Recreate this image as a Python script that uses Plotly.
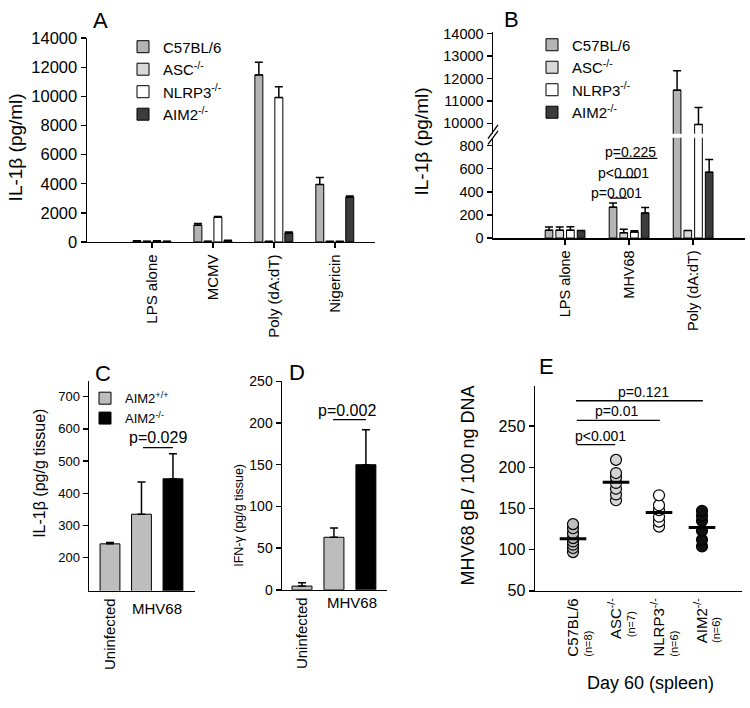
import plotly.graph_objects as go
import numpy as np

W, H = 750, 708
FONT = "Liberation Sans, Arial, sans-serif"

# ---------------- data ----------------
genotypes = ["C57BL/6", "ASC<sup>-/-</sup>", "NLRP3<sup>-/-</sup>", "AIM2<sup>-/-</sup>"]
geno_colors = ["#b4b4b4", "#d9d9d9", "#ffffff", "#3c3c3c"]

# Panel A
a_categories = ["LPS alone", "MCMV", "Poly (dA:dT)", "Nigericin"]
a_c57 = [60, 1150, 11480, 3950]
a_c57_err = [25, 110, 870, 470]
a_asc = [40, 40, 30, 30]
a_asc_err = [15, 10, 10, 10]
a_nlrp3 = [60, 1700, 9920, 30]
a_nlrp3_err = [20, 40, 740, 10]
a_aim2 = [40, 80, 620, 3080]
a_aim2_err = [15, 30, 70, 70]

# Panel B
b_categories = ["LPS alone", "MHV68", "Poly (dA:dT)"]
b_c57 = [68, 267, 11480]
b_c57_err = [28, 36, 870]
b_asc = [68, 45, 65]
b_asc_err = [28, 30, 0]
b_nlrp3 = [68, 52, 9950]
b_nlrp3_err = [30, 12, 760]
b_aim2 = [65, 216, 570]
b_aim2_err = [0, 48, 110]

# Panel C (IL-1b in tissue)
cd_categories = ["Uninfected", "MHV68"]
c_labels = ["AIM2<sup>+/+</sup>", "AIM2<sup>-/-</sup>"]
c_wt = [243, 335]
c_wt_err = [4, 100]
c_ko = [445]
c_ko_err = [78]

# Panel D (IFN-g in tissue)
d_wt = [4.5, 63]
d_wt_err = [4, 11]
d_ko = [150]
d_ko_err = [42]

# Panel E (viral load, day 60 spleen)
e_labels = ["C57BL/6", "ASC<sup>-/-</sup>", "NLRP3<sup>-/-</sup>", "AIM2<sup>-/-</sup>"]
e_c57 = [97, 102, 106, 110, 114, 120, 126, 131]
e_asc = [160, 167, 174, 181, 188, 193, 209]
e_nlrp3 = [128, 134, 140, 148, 154, 166]
e_aim2 = [104, 112, 123, 135, 141, 147]
e_colors = ["#bebebe", "#d4d4d4", "#ffffff", "#111111"]

# ---------------- helpers ----------------
def xd(a, b):
    return [a / W, b / W]

def yd(top, bottom):
    return [1 - bottom / H, 1 - top / H]

axis_common = dict(showline=True, linecolor="black", linewidth=1.5, showgrid=False,
                   zeroline=False, ticks="outside", ticklen=5, tickwidth=1.5,
                   tickcolor="black", fixedrange=True, tickformat="d")

def tf(size):
    return dict(family=FONT, size=size, color="black")

fig = go.Figure()

# ---------------- Panel A ----------------
a_series = [(a_c57, a_c57_err), (a_asc, a_asc_err), (a_nlrp3, a_nlrp3_err), (a_aim2, a_aim2_err)]
stepA, widthA = 0.164, 0.131
for i, (vals, errs) in enumerate(a_series):
    fig.add_trace(go.Bar(
        x=list(range(len(a_categories))), y=vals, name=genotypes[i],
        offset=-2 * stepA + (stepA - widthA) / 2 + i * stepA, width=widthA,
        marker=dict(color=geno_colors[i], line=dict(color="black", width=1)),
        error_y=dict(type="data", array=errs, arrayminus=[0] * len(errs), symmetric=False,
                     color="black", thickness=1.5, width=4),
        xaxis="x", yaxis="y", legend="legend", hoverinfo="skip"))

# ---------------- Panel B ----------------
b_series = [(b_c57, b_c57_err), (b_asc, b_asc_err), (b_nlrp3, b_nlrp3_err), (b_aim2, b_aim2_err)]
stepB, widthB = 0.167, 0.12
for seg, yax in enumerate(["y2", "y3"]):
    for i, (vals, errs) in enumerate(b_series):
        fig.add_trace(go.Bar(
            x=list(range(len(b_categories))), y=vals, name=genotypes[i],
            offset=-2 * stepB + (stepB - widthB) / 2 + i * stepB, width=widthB,
            marker=dict(color=geno_colors[i], line=dict(color="black", width=1)),
            error_y=dict(type="data", array=errs, arrayminus=[0] * len(errs), symmetric=False,
                         color="black", thickness=1.5, width=4),
            xaxis="x2", yaxis=yax, legend="legend2", showlegend=(seg == 0), hoverinfo="skip"))

# ---------------- Panel C ----------------
wC = 0.63
fig.add_trace(go.Bar(x=[0, 1], y=c_wt, name=c_labels[0], offset=-wC / 2, width=wC,
                     marker=dict(color="#bdbdbd", line=dict(color="black", width=1)),
                     error_y=dict(type="data", array=c_wt_err, arrayminus=[0, 0], symmetric=False,
                                  color="black", thickness=1.5, width=4),
                     xaxis="x3", yaxis="y4", legend="legend3", hoverinfo="skip"))
fig.add_trace(go.Bar(x=[2], y=c_ko, name=c_labels[1], offset=-wC / 2, width=wC,
                     marker=dict(color="#000000", line=dict(color="black", width=1)),
                     error_y=dict(type="data", array=c_ko_err, arrayminus=[0], symmetric=False,
                                  color="black", thickness=1.5, width=4),
                     xaxis="x3", yaxis="y4", legend="legend3", hoverinfo="skip"))

# ---------------- Panel D ----------------
wD = 0.625
fig.add_trace(go.Bar(x=[0, 1], y=d_wt, name=c_labels[0], offset=-wD / 2, width=wD, showlegend=False,
                     marker=dict(color="#bdbdbd", line=dict(color="black", width=1)),
                     error_y=dict(type="data", array=d_wt_err, arrayminus=[0, 0], symmetric=False,
                                  color="black", thickness=1.5, width=4),
                     xaxis="x4", yaxis="y5", hoverinfo="skip"))
fig.add_trace(go.Bar(x=[2], y=d_ko, name=c_labels[1], offset=-wD / 2, width=wD, showlegend=False,
                     marker=dict(color="#000000", line=dict(color="black", width=1)),
                     error_y=dict(type="data", array=d_ko_err, arrayminus=[0], symmetric=False,
                                  color="black", thickness=1.5, width=4),
                     xaxis="x4", yaxis="y5", hoverinfo="skip"))

# ---------------- Panel E ----------------
e_groups = [e_c57, e_asc, e_nlrp3, e_aim2]
for i, vals in enumerate(e_groups):
    fig.add_trace(go.Scatter(x=[i + 1] * len(vals), y=vals, mode="markers", showlegend=False,
                             marker=dict(size=11, color=e_colors[i], line=dict(color="black", width=1.2)),
                             xaxis="x5", yaxis="y6", hoverinfo="skip"))
fig.add_trace(go.Scatter(x=[i + 1 for i in range(len(e_groups))], y=[float(np.mean(v)) for v in e_groups],
                         mode="markers", showlegend=False,
                         marker=dict(symbol="line-ew", size=19, line=dict(color="black", width=3)),
                         xaxis="x5", yaxis="y6", hoverinfo="skip"))

# ---------------- layout ----------------
layout = dict(
    width=W, height=H, margin=dict(l=0, r=0, t=0, b=0),
    paper_bgcolor="white", plot_bgcolor="white", barmode="overlay",
    font=tf(15),
    xaxis=dict(axis_common, domain=xd(87, 375), range=[-1.066, 3.66], anchor="y",
               tickvals=list(range(len(a_categories))), ticktext=a_categories, tickangle=-90,
               tickfont=tf(15)),
    yaxis=dict(axis_common, domain=yd(30, 239), range=[0, 14000], dtick=2000, anchor="x",
               tickfont=tf(16.5)),
    xaxis2=dict(axis_common, domain=xd(493, 745), range=[-1.125, 2.81], anchor="y2",
                tickvals=list(range(len(b_categories))), ticktext=b_categories, tickangle=-90,
                tickfont=tf(14.5)),
    yaxis2=dict(axis_common, domain=yd(132, 235), range=[0, 869], tickvals=[0, 200, 400, 600, 800],
                anchor="x2", tickfont=tf(14.5)),
    yaxis3=dict(axis_common, domain=yd(24, 128), range=[9535, 14057],
                tickvals=[10000, 11000, 12000, 13000, 14000], anchor="x2", tickfont=tf(14.5)),
    xaxis3=dict(axis_common, domain=xd(89, 195), range=[-0.667, 2.7], anchor="y4",
                tickvals=[0], ticktext=[cd_categories[0]], tickangle=-90, ticks="",
                tickfont=tf(15)),
    yaxis4=dict(axis_common, domain=yd(382, 597), range=[97, 748],
                tickvals=[200, 300, 400, 500, 600, 700], anchor="x3", tickfont=tf(13)),
    xaxis4=dict(axis_common, domain=xd(282, 387), range=[-0.625, 2.66], anchor="y5",
                tickvals=[0], ticktext=[cd_categories[0]], tickangle=-90, ticks="",
                tickfont=tf(15)),
    yaxis5=dict(axis_common, domain=yd(382, 596), range=[0, 250], dtick=50, anchor="x4",
                tickfont=tf(14)),
    xaxis5=dict(axis_common, domain=xd(535, 742), range=[0.116, 4.93], anchor="y6",
                tickvals=[1, 2, 3, 4], ticktext=e_labels, tickangle=-90, ticks="",
                tickfont=tf(15)),
    yaxis6=dict(axis_common, domain=yd(387, 597), range=[50, 298.5],
                tickvals=[50, 100, 150, 200, 250], anchor="x5", tickfont=tf(16)),
    legend=dict(x=123 / W, y=1 - 22 / H, xanchor="left", yanchor="top", font=tf(15),
                bgcolor="rgba(0,0,0,0)", tracegroupgap=0, traceorder="normal"),
    legend2=dict(x=532 / W, y=1 - 20 / H, xanchor="left", yanchor="top", font=tf(15),
                 bgcolor="rgba(0,0,0,0)", tracegroupgap=0, traceorder="normal"),
    legend3=dict(x=85 / W, y=1 - 384 / H, xanchor="left", yanchor="top", font=tf(13),
                 bgcolor="rgba(0,0,0,0)", tracegroupgap=0, traceorder="normal"),
)
fig.update_layout(**layout)

ann = []
def pann(text, px, py, size, angle=0, xanchor="center"):
    ann.append(dict(text=text, x=px / W, y=1 - py / H, xref="paper", yref="paper",
                    showarrow=False, font=tf(size), textangle=angle, xanchor=xanchor, yanchor="middle"))

# panel letters
pann("A", 100, 12, 22)
pann("B", 511, 11, 22)
pann("C", 103, 374, 22)
pann("D", 297, 373, 22)
pann("E", 546, 367, 22)

# y-axis titles
pann("IL-1β (pg/ml)", 15, 142, 19, -90)
pann("IL-1β (pg/ml)", 422, 136, 19, -90)
pann("IL-1β (pg/g tissue)", 40, 477, 16, -90)
pann("IFN-γ (pg/g tissue)", 239, 520, 12.5, -90)
pann("MHV68 gB / 100 ng DNA", 468, 489, 18, -90)
pann("Day 60 (spleen)", 650, 692, 18)

# group sizes under the E tick labels (bottom-aligned with each label)
e_n_bottom = [667, 647, 667, 653]
for i, vals in enumerate(e_groups):
    ann.append(dict(text=f"(n={len(vals)})", x=i + 1 + 0.34, xref="x5", y=1 - e_n_bottom[i] / H,
                    yref="paper", showarrow=False, font=tf(11), textangle=-90, yanchor="bottom"))

# horizontal category labels for C and D
ann.append(dict(text=cd_categories[1], x=1.5, xref="x3", y=1 - 615 / H, yref="paper", showarrow=False,
                font=tf(15), yanchor="middle"))
ann.append(dict(text=cd_categories[1], x=1.56, xref="x4", y=1 - 609 / H, yref="paper", showarrow=False,
                font=tf(15), yanchor="middle"))

shapes = []
def pline(x0, x1, y, xref, yref):
    shapes.append(dict(type="line", x0=x0, x1=x1, y0=y, y1=y, xref=xref, yref=yref,
                       line=dict(color="black", width=1.3)))

def ptext(text, x, y, xref, yref, size=14):
    ann.append(dict(text=text, x=x, y=y, xref=xref, yref=yref, showarrow=False, font=tf(size),
                    yanchor="middle"))

# B p-values
pline(0.70, 0.97, 345, "x2", "y2"); ptext("p=0.001", 0.81, 388, "x2", "y2")
pline(0.78, 1.14, 522, "x2", "y2"); ptext("p<0.001", 0.906, 565, "x2", "y2")
pline(0.78, 1.44, 690, "x2", "y2"); ptext("p=0.225", 1.017, 743, "x2", "y2")
# C p-value
pline(1.05, 2.0, 542, "x3", "y4"); ptext("p=0.029", 1.52, 573, "x3", "y4", 16)
# D p-value
pline(0.97, 2.0, 204, "x4", "y5"); ptext("p=0.002", 1.41, 215, "x4", "y5", 16)
# E p-values
pline(1.09, 1.98, 227.5, "x5", "y6"); ptext("p<0.001", 1.63, 238, "x5", "y6")
pline(1.09, 3.02, 257, "x5", "y6"); ptext("p=0.01", 2.0, 267.8, "x5", "y6")
pline(1.07, 4.02, 280.8, "x5", "y6"); ptext("p=0.121", 2.63, 291.4, "x5", "y6")

# axis break marks for B
for dy in (0, -6):
    shapes.append(dict(type="line", xref="paper", yref="paper",
                       x0=488 / W, y0=1 - (139 + dy) / H, x1=498 / W, y1=1 - (125 + dy) / H,
                       line=dict(color="black", width=1.3)))

fig.update_layout(annotations=ann, shapes=shapes)

fig.write_html("out.html", config={"displayModeBar": False, "staticPlot": True},
               post_script="document.body.style.margin='0';document.body.style.overflow='hidden';")
